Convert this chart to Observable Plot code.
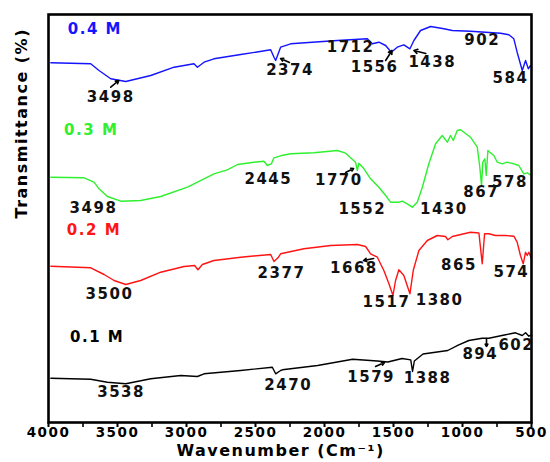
<!DOCTYPE html>
<html>
<head>
<meta charset="utf-8">
<script src="https://cdn.jsdelivr.net/npm/d3@7"></script>
<script src="https://cdn.jsdelivr.net/npm/@observablehq/plot@0.6"></script>
<style>
  html, body { margin: 0; padding: 0; background: #fff; }
  #chart svg text { font-weight: bold; letter-spacing: 1.5px; }
  #chart svg g[aria-label="ylabel"] text { letter-spacing: -0.3px; font-family: "Liberation Sans", Arial, sans-serif; }
  #chart svg g[aria-label="xlabel"] text { letter-spacing: 2.4px; }
</style>
</head>
<body>
<div id="chart"></div>
<script>
// ---- data (wavenumber in cm^-1, transmittance in arbitrary offset units) ----
const wn04 = [3983,3694,3634,3549,3440,3259,3090,2946,2921,2873,2801,2607,2390,2366,2354,2318,2245,1907,1690,1654,1606,1557,1516,1473,1425,1381,1352,1304,1231,1135,1074,942,724,664,628,604,567,543,523,507];
const t04  = [359.7,358.7,352,343.7,341,347,355.3,358.7,355.3,360.3,363.7,368,372.7,365.3,362,375.3,378.7,382,383.7,378.7,380.3,377,370.3,375.3,377.7,373.7,382,392,396,393.7,392,391.3,389.3,387.7,383.7,370.3,352,362,353.7,357];

const wn03 = [3983,3742,3670,3634,3573,3476,3332,3187,2993,2801,2704,2631,2511,2439,2414,2385,2366,2318,2245,2077,1907,1847,1775,1762,1751,1714,1666,1606,1557,1521,1461,1436,1400,1364,1328,1291,1244,1195,1147,1110,1087,1067,1038,1014,942,893,876,862,853,838,828,816,802,773,748,712,676,628,592,556,531,507];
const t03  = [245.3,244.7,240.3,233.7,226,221.3,222,226,235.3,248.7,252.7,258,260.3,261.3,257,258.7,264.7,266.7,268.7,269.7,272,269.3,260.3,252,259.3,253.7,243.7,235.3,227,220.3,220.3,221.3,218.7,215.3,220.3,235.3,258.7,278.7,287,280.3,287,282,292,292.7,285.3,275.3,257,237,260.3,263.7,247,272,270.3,267,260.3,258.7,260.3,258.7,257,248.7,249.7,247.7];

const wn02 = [3983,3694,3597,3525,3440,3332,3187,3018,2941,2917,2885,2801,2607,2390,2366,2337,2318,2149,1956,1762,1702,1666,1617,1570,1533,1504,1485,1461,1425,1381,1357,1316,1255,1183,1123,1106,1074,942,881,857,840,809,761,688,628,604,580,560,543,531,519,500];
const t02  = [156.3,154.7,148,142,138,142,150.3,156,157,152.7,158,162,165.3,168,161,164.7,168.7,173.7,177,178,176,168.7,165.3,152,138.7,127,142,152.7,147,128.7,152,172,182,187,186,182.7,186,190.3,189.5,158.7,188.7,188.7,187,187,186.3,180.3,167,158.7,170.3,167,170.3,163.7];

const wn01 = [3983,3694,3573,3440,3259,3042,2921,2873,2607,2378,2354,2318,2305,2050,1796,1617,1541,1438,1375,1362,1349,1286,1107,1031,954,857,809,688,616,567,543,519,500];
const t01  = [44.3,43.3,40.3,38.7,43.7,47,46,48.7,52,55.3,48.7,52,52.7,57,63.3,61.5,60.5,64,62.6,51,61.5,68.5,72,77.4,82,84.3,84.3,87.7,89.7,87,89.7,86.3,87.7];

const seriesNames  = ["0.4 M", "0.3 M", "0.2 M", "0.1 M"];
const seriesColors = ["#1414ff", "#2ef02e", "#ff1414", "#000000"];

// peak annotations: [label, wavenumber, transmittance]
const peakLabels = [
  ["3498",3549,325.3],["2374",2250,352],["1712",1811,375.8],["1556",1637,355.3],["1438",1219,360.7],["902",857,382],["584",652,344.5],
  ["3498",3674,214],["2445",2407,243.3],["1770",1896,242],["1552",1726,213.7],["1430",1135,213.7],["867",864,230.3],["578",656,240.3],
  ["3500",3558,128.7],["2377",2312,149.2],["1668",1787,154.3],["1517",1551,120.3],["1380",1166,122],["865",1026,157.3],["574",646,150.3],
  ["3538",3474,30.7],["2470",2263,37.6],["1579",1662,45.7],["1388",1253,43.9],["894",871,68.7],["602",610,77]
];
// series name labels: [name, wavenumber, transmittance]
const nameLabels = [
  ["0.4 M",3860,393.7],["0.3 M",3887,292],["0.2 M",3867,192],["0.1 M",3844,85.3]
];
// pointer arrows: [wn1, t1, wn2, t2]
const pointers = [
  [3549,335.3,3491,342],[2254,360,2318,364],[1557,362,1511,372],[1266,369,1352,372],
  [1847,250,1789,254],[1644,164,1717,162],[1630,56,1565,60],[826,84,826,76]
];
const xTickLabels = d3.range(500, 4001, 500);
const xTicksAll = d3.range(500, 4001, 250);

const toRows = (w, t) => w.map((d, i) => ({wn: d, t: t[i]}));
const rows = [toRows(wn04, t04), toRows(wn03, t03), toRows(wn02, t02), toRows(wn01, t01)];
const peaks = peakLabels.map(([label, wn, t]) => ({label, wn, t}));
const names = nameLabels.map(([name, wn, t], i) => ({name, wn, t, color: seriesColors[i]}));
const arrows = pointers.map(([x1, y1, x2, y2]) => ({x1, y1, x2, y2}));

const chart = Plot.plot({
  width: 550,
  height: 462,
  marginLeft: 48,
  marginRight: 19,
  marginTop: 14,
  marginBottom: 40,
  style: {fontFamily: "'DejaVu Sans', sans-serif", background: "#fff", overflow: "visible", color: "#000"},
  x: {domain: [4000, 500]},
  y: {domain: [0, 408], axis: null},
  marks: [
    ...rows.map((r, i) => Plot.line(r, {x: "wn", y: "t", stroke: seriesColors[i], strokeWidth: 1.4, curve: "linear"})),
    Plot.ruleX(xTicksAll, {y1: 0, y2: -5, stroke: "#000", strokeWidth: 1.6}),
    Plot.frame({stroke: "#000", strokeWidth: 2.6}),
    Plot.axisX({ticks: xTickLabels, tickFormat: d => String(d), tickSize: 5, tickPadding: 0, fontSize: 13.5, strokeWidth: 1.6, label: null}),
    Plot.arrow(arrows, {x1: "x1", y1: "y1", x2: "x2", y2: "y2", stroke: "#000", strokeWidth: 1.6, headLength: 5}),
    Plot.text(peaks, {x: "wn", y: "t", text: "label", fontSize: 15, fill: "#111"}),
    Plot.text(names, {x: "wn", y: "t", text: "name", fontSize: 15, fill: "color", textAnchor: "start"}),
    Plot.text(["Wavenumber (Cm⁻¹)"], {x: () => 2318, frameAnchor: "bottom", dy: 33, fontSize: 16, fill: "#000", ariaLabel: "xlabel"}),
    Plot.text(["Transmittance (%)"], {y: () => 204, frameAnchor: "left", dx: -27, rotate: -90, fontSize: 16, fill: "#000", ariaLabel: "ylabel"})
  ]
});
document.getElementById("chart").appendChild(chart);
</script>
</body>
</html>
